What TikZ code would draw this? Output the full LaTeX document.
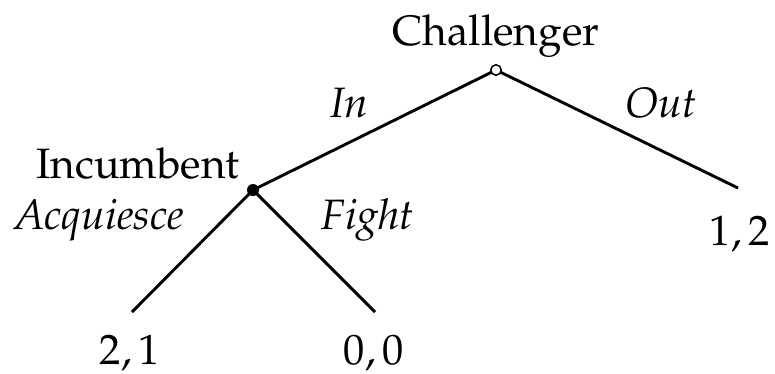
\documentclass[tikz,border=0pt]{standalone}
\usepackage[T1]{fontenc}
\usepackage{mathpazo}
\begin{document}
\begin{tikzpicture}[x=1pt,y=-1pt,
  edge/.style={line width=2.9pt},
  lbl/.style={font=\fontsize{42.5}{50}\selectfont, inner sep=0pt},
  opennode/.style={circle,draw,fill=white,line width=1.5pt,minimum size=10.5pt,inner sep=0pt},
  solidnode/.style={circle,fill=black,minimum size=12pt,inner sep=0pt}]
\useasboundingbox (0,0) rectangle (775,373);
\coordinate (root) at (496,70);
\coordinate (inc) at (253,190);
\coordinate (outleaf) at (738,188);
\coordinate (acq) at (132,312);
\coordinate (fight) at (375,312);
\draw[edge] (root) -- (inc);
\draw[edge] (root) -- (outleaf);
\draw[edge] (inc) -- (acq);
\draw[edge] (inc) -- (fight);
\node[opennode] (rootn) at (root) {};
\node[solidnode] (incn) at (inc) {};
\node[lbl, anchor=base] (chal) at (496,45) {Challenger};
\node[lbl, anchor=base] (incl) at (138,178) {Incumbent};
\node[lbl, anchor=base] (inl) at (349,117) {\itshape In};
\node[lbl, anchor=base] (outl) at (661,117) {\itshape Out};
\node[lbl, anchor=base] (acql) at (99,229) {\itshape Acquiesce};
\node[lbl, anchor=base] (figl) at (368,229) {\itshape Fight};
\node[lbl, anchor=base] (p12) at (740,245) {$1,2$};
\node[lbl, anchor=base] (p21) at (130,364) {$2,1$};
\node[lbl, anchor=base] (p00) at (374,364) {$0,0$};
\end{tikzpicture}
\end{document}
